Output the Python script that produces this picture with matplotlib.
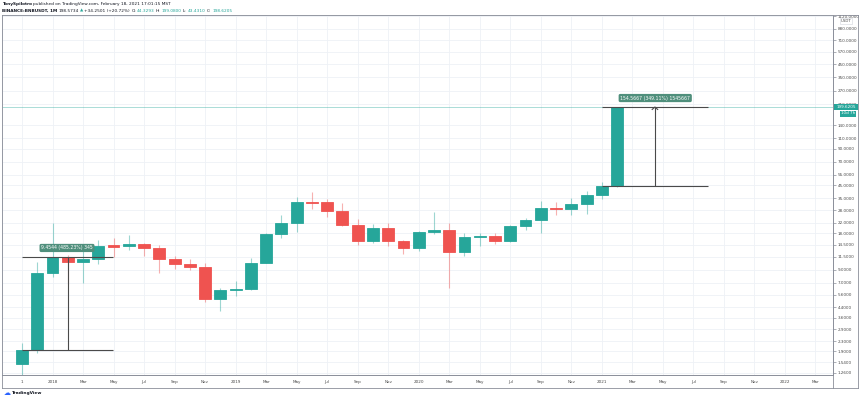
import matplotlib
matplotlib.use("Agg")
import matplotlib.pyplot as plt
from matplotlib.patches import Rectangle
from matplotlib.lines import Line2D
from matplotlib.ticker import FixedLocator, NullLocator

# ---------------- data ----------------
months = ["2017-11", "2017-12", "2018-01", "2018-02", "2018-03", "2018-04", "2018-05", "2018-06",
          "2018-07", "2018-08", "2018-09", "2018-10", "2018-11", "2018-12", "2019-01", "2019-02",
          "2019-03", "2019-04", "2019-05", "2019-06", "2019-07", "2019-08", "2019-09", "2019-10",
          "2019-11", "2019-12", "2020-01", "2020-02", "2020-03", "2020-04", "2020-05", "2020-06",
          "2020-07", "2020-08", "2020-09", "2020-10", "2020-11", "2020-12", "2021-01", "2021-02"]
opens = [1.49, 1.95, 8.46, 11.40, 10.40, 11.05, 14.40, 14.10, 14.70, 13.70, 10.96, 9.96, 9.45, 5.16,
         6.10, 6.20, 10.30, 17.70, 22.00, 32.90, 32.50, 27.60, 21.00, 15.60, 19.80, 15.60, 13.70,
         18.30, 19.10, 12.50, 16.90, 17.10, 15.40, 20.80, 23.20, 29.30, 28.70, 31.40, 37.30, 44.33]
highs = [2.23, 10.50, 22.00, 11.90, 13.30, 15.80, 16.50, 17.40, 15.00, 14.30, 11.70, 11.00, 10.20, 6.40,
         7.20, 11.20, 18.00, 25.50, 35.60, 39.70, 34.60, 32.00, 23.60, 21.40, 22.00, 15.80, 18.90,
         27.00, 21.70, 18.00, 18.00, 18.00, 20.90, 24.20, 33.50, 32.50, 35.00, 40.50, 47.60, 199.08]
lows = [1.21, 1.85, 7.80, 6.90, 7.00, 10.00, 11.50, 13.00, 11.60, 8.50, 9.10, 9.00, 4.90, 4.10,
        5.40, 6.10, 10.20, 16.30, 18.50, 28.60, 24.40, 20.70, 14.30, 14.90, 14.00, 12.10, 12.90,
        17.60, 6.40, 11.70, 14.00, 14.80, 15.10, 19.10, 18.00, 25.30, 25.30, 26.00, 34.50, 43.43]
closes = [1.95, 8.46, 11.40, 10.40, 11.05, 14.20, 13.90, 14.70, 13.70, 10.96, 9.96, 9.45, 5.16, 6.10,
          6.20, 10.30, 17.70, 22.00, 32.90, 32.30, 27.60, 21.00, 15.60, 19.80, 15.60, 13.70, 18.30,
          19.10, 12.50, 16.90, 17.10, 15.40, 20.80, 23.20, 29.30, 28.70, 31.40, 37.30, 44.30, 198.62]

time_tick_labels = ["1", "2018", "Mar", "May", "Jul", "Sep", "Nov",
                    "2019", "Mar", "May", "Jul", "Sep", "Nov",
                    "2020", "Mar", "May", "Jul", "Sep", "Nov",
                    "2021", "Mar", "May", "Jul", "Sep", "Nov",
                    "2022", "Mar"]
price_ticks = [1.26, 1.54, 1.9, 2.3, 2.9, 3.6, 4.4, 5.6, 7.0, 9.0, 11.5, 14.5, 18, 22, 28, 35, 45,
               55, 70, 90, 110, 140, 210, 270, 350, 450, 570, 710, 880, 1120]

range1 = (1.9484, 11.4028)      # first price-range measurement
range1_label = "9.4544 (485.23%) 345"
range2 = (44.2733, 198.84)      # second price-range measurement
range2_label = "154.5667 (349.11%) 1545667"
last_price = 199.6205

# ---------------- figure ----------------
W, H = 860, 398
fig = plt.figure(figsize=(W / 100, H / 100), dpi=100)
fig.patch.set_facecolor("white")
plt.rcParams["font.family"] = ["DejaVu Sans"]

def fx(px):
    return px / W

def fy(py):
    return 1 - py / H

L, R, T, B = 2, 833, 15, 375
ax = fig.add_axes([fx(L), fy(B), fx(R - L), (B - T) / H])
ax.set_yscale("log")
ax.set_ylim(1.212, 1146)
ax.set_xlim(-1.31, 53.15)

GREEN = "#26a69a"
RED = "#ef5350"

# grid
xt = list(range(0, 53, 2))
for x in xt:
    ax.axvline(x, color="#eef1f6", lw=0.6, zorder=0)
for p in price_ticks:
    ax.axhline(p, color="#eef1f6", lw=0.6, zorder=0)

# candles
xs = list(range(len(months)))
for i in xs:
    o, h, l, c = opens[i], highs[i], lows[i], closes[i]
    col = GREEN if c >= o else RED
    ax.vlines(i, l, h, color=col, lw=0.8, alpha=0.45, zorder=2)
    lo, hi = min(o, c), max(o, c)
    ax.bar(i, hi - lo, bottom=lo, width=0.78, color=col, edgecolor=col, lw=0.6, zorder=3)

# current price line
ax.axhline(last_price, color=GREEN, lw=0.6, alpha=0.45, zorder=1)

# price range annotations
LINE = "#4a4a4a"
ax.hlines(list(range1), -0.02, 5.98, color=LINE, lw=0.8, zorder=4)
ax.vlines(3.0, range1[0], range1[1], color=LINE, lw=0.8, zorder=4)
ax.text(2.95, 13.6, range1_label, ha="center", va="center", fontsize=3.3, color="white", zorder=6,
        bbox=dict(boxstyle="round,pad=0.35", fc="#4f8f7c", ec="none"))

ax.hlines(list(range2), 38.0, 44.97, color=LINE, lw=0.8, zorder=4)
ax.vlines(41.48, range2[0], range2[1], color=LINE, lw=0.8, zorder=4)
ax.plot([41.3, 41.48, 41.66], [range2[1] * 0.955, range2[1], range2[1] * 0.955],
        color=LINE, lw=0.8, zorder=4)
ax.text(41.5, 236, range2_label, ha="center", va="center", fontsize=3.3, color="white", zorder=6,
        bbox=dict(boxstyle="round,pad=0.35", fc="#4f8f7c", ec="none"))

# axes styling
for s in ["top", "left"]:
    ax.spines[s].set_color("#d1d4dc")
    ax.spines[s].set_linewidth(0.6)
ax.spines["right"].set_color("#8a8e99")
ax.spines["right"].set_linewidth(0.7)
ax.spines["bottom"].set_color("#8a8e99")
ax.spines["bottom"].set_linewidth(0.7)

ax.yaxis.tick_right()
ax.yaxis.set_major_locator(FixedLocator(price_ticks))
ax.yaxis.set_minor_locator(NullLocator())
ax.set_yticklabels([f"{p:.4f}" for p in price_ticks])
ax.tick_params(axis="y", which="major", length=2, width=0.5, color="#8a8e99", pad=1.5,
               labelsize=3.0, labelcolor="#4a4a4a")
ax.set_xticks(xt)
ax.set_xticklabels(time_tick_labels)
ax.tick_params(axis="x", length=0, pad=3.5, labelsize=3.0, labelcolor="#4a4a4a")

# outer frame (price scale / time scale boxes)
frame = dict(transform=fig.transFigure, color="#8a8e99", lw=0.6)
fig.add_artist(Line2D([fx(L), fx(858)], [fy(T), fy(T)], **frame))
fig.add_artist(Line2D([fx(858), fx(858)], [fy(T), fy(388)], **frame))
fig.add_artist(Line2D([fx(L), fx(858)], [fy(388), fy(388)], **frame))
fig.add_artist(Line2D([fx(L), fx(L)], [fy(T), fy(388)], **frame))
fig.add_artist(Line2D([fx(R), fx(R)], [fy(B), fy(388)], **frame))

# price tags on right axis
fig.add_artist(Rectangle((fx(834), fy(110)), fx(24), 6 / H, transform=fig.transFigure,
                         fc=GREEN, ec="none", zorder=10))
fig.text(fx(846), fy(107), "199.6205", ha="center", va="center", fontsize=3.0, color="white", zorder=11)
fig.add_artist(Rectangle((fx(840), fy(116.5)), fx(16), 6 / H, transform=fig.transFigure,
                         fc=GREEN, ec="none", zorder=10))
fig.text(fx(848), fy(113.5), "10d 7h", ha="center", va="center", fontsize=3.0, color="white", zorder=11)
fig.text(fx(846), fy(21), "USDT", ha="center", va="center", fontsize=2.8, color="#4a4a4a",
         bbox=dict(boxstyle="square,pad=0.2", fc="white", ec="#d1d4dc", lw=0.4))

# header
fig.canvas.draw()
renderer = fig.canvas.get_renderer()

def seg_line(y, parts, x0=2):
    x = fx(x0)
    for txt, col, bold in parts:
        t = fig.text(x, fy(y), txt, fontsize=3.1, color=col, va="center", ha="left",
                     fontweight="bold" if bold else "normal")
        bb = t.get_window_extent(renderer=renderer)
        x += bb.width / W + 1.2 / W

seg_line(4, [("TonySpilotro", "#131722", True),
             ("published on TradingView.com, February 18, 2021 17:01:15 MST", "#131722", False)])
seg_line(10.5, [("BINANCE:BNBUSDT, 1M", "#131722", True),
                ("198.5734", "#131722", False),
                ("\u25B2", GREEN, False),
                ("+34.2501 (+20.72%)", "#131722", False),
                ("O:", "#131722", False), ("44.3293", GREEN, False),
                ("H:", "#131722", False), ("199.0800", GREEN, False),
                ("L:", "#131722", False), ("43.4310", GREEN, False),
                ("C:", "#131722", False), ("198.6205", GREEN, False)])

# TradingView logo
fig.text(fx(4), fy(393), "\u2601", fontsize=5, color="#2962ff", va="center", ha="left",
         family=["DejaVu Sans"])
fig.text(fx(12), fy(393), "TradingView", fontsize=3.2, color="#131722", va="center", ha="left",
         fontweight="bold")

fig.savefig("out.png", dpi=100, facecolor="white")
